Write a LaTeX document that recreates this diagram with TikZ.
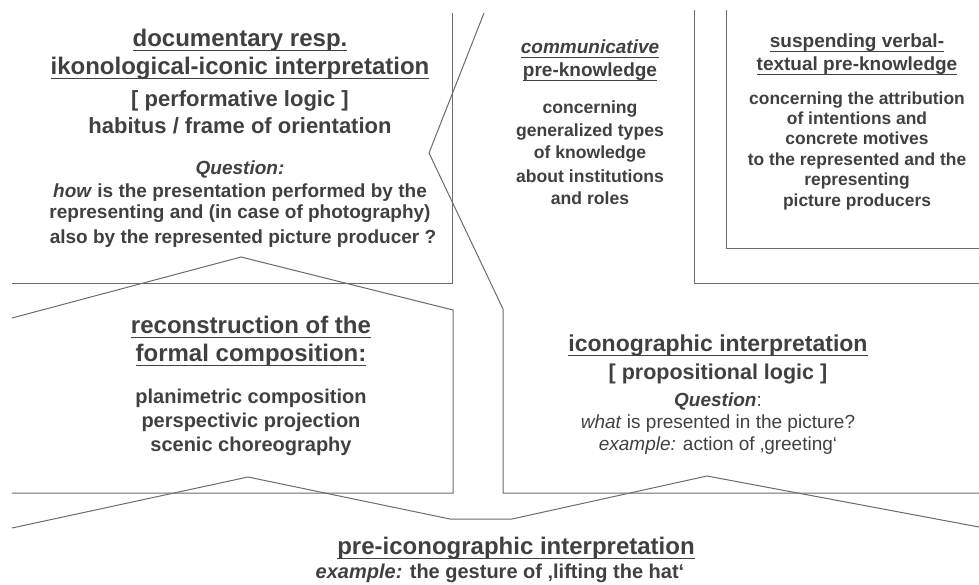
\documentclass[tikz,border=0pt]{standalone}
\usepackage{fontspec}
\setmainfont{Liberation Sans}
\usepackage{tikz}
\definecolor{linegray}{gray}{0.42}
\definecolor{txtgray}{gray}{0.25}
\newcommand{\ulin}[1]{\setbox0\hbox{#1}\rlap{\rule[-5pt]{\wd0}{1.3pt}}\box0}
\tikzset{
	frame/.style={draw=linegray, line width=1pt},
	boldtxt/.style={inner sep=0pt, anchor=base, text=txtgray, font=\bfseries\fontsize{#1}{#1}\selectfont},
	plaintxt/.style={inner sep=0pt, anchor=base, text=txtgray, font=\fontsize{#1}{#1}\selectfont}
}

\begin{document}
\begin{tikzpicture}[x=1pt, y=-1pt]
		%%%%% START %%%%%
		\useasboundingbox (0, 0) rectangle (979, 584);
		
		\draw[frame] (452, 13) -- (452, 283) -- (12, 283);
		\draw[frame] (484, 13) -- (429, 153) -- (503, 309) -- (503, 493) -- (979, 493);
		\draw[frame] (694, 10) -- (694, 283) -- (979, 283);
		\draw[frame] (726, 10) -- (726, 248) -- (979, 248);
		\draw[frame] (12, 318) -- (241, 257) -- (453, 310) -- (453, 493) -- (12, 493);
		\draw[frame] (12, 528) -- (248, 477) -- (450, 519) -- (512, 519) -- (707, 476) -- (979, 527);
		
		% documentary box
		\node[boldtxt=24] (doc-t1) at (240, 46) {\ulin{documentary resp.}};
		\node[boldtxt=24] (doc-t2) at (240, 74) {\ulin{ikonological-iconic interpretation}};
		\node[boldtxt=22] (doc-logic) at (240, 106) {[ performative logic ]};
		\node[boldtxt=22] (doc-hab) at (240, 133) {habitus / frame of orientation};
		\node[boldtxt=19] (doc-q) at (240, 174) {\textit{Question:}};
		\node[boldtxt=19] (doc-q1) at (240, 197) {\textit{how} is the presentation performed by the};
		\node[boldtxt=19] (doc-q2) at (240, 218) {representing and (in case of photography)};
		\node[boldtxt=19] (doc-q3) at (243, 243) {also by the represented picture producer ?};
		
		% communicative pre-knowledge
		\node[boldtxt=19] (com-t1) at (590, 53) {\ulin{\textit{communicative}}};
		\node[boldtxt=19] (com-t2) at (590, 76) {\ulin{pre-knowledge}};
		\node[boldtxt=17.6] (com-b1) at (590, 113) {concerning};
		\node[boldtxt=17.6] (com-b2) at (590, 136) {generalized types};
		\node[boldtxt=17.6] (com-b3) at (590, 158) {of knowledge};
		\node[boldtxt=17.6] (com-b4) at (590, 182) {about institutions};
		\node[boldtxt=17.6] (com-b5) at (590, 204) {and roles};
		
		% suspending verbal-textual pre-knowledge
		\node[boldtxt=19] (sus-t1) at (857, 47) {\ulin{suspending verbal-}};
		\node[boldtxt=19] (sus-t2) at (857, 70) {\ulin{textual pre-knowledge}};
		\node[boldtxt=17.4] (sus-b1) at (857, 104) {concerning the attribution};
		\node[boldtxt=17.4] (sus-b2) at (857, 124) {of intentions and};
		\node[boldtxt=17.4] (sus-b3) at (857, 144) {concrete motives};
		\node[boldtxt=17.4] (sus-b4) at (857, 165) {to the represented and the};
		\node[boldtxt=17.4] (sus-b5) at (857, 185) {representing};
		\node[boldtxt=17.4] (sus-b6) at (857, 206) {picture producers};
		
		% formal composition
		\node[boldtxt=24] (rec-t1) at (251, 333) {\ulin{reconstruction of the}};
		\node[boldtxt=24] (rec-t2) at (251, 361) {\ulin{formal composition:}};
		\node[boldtxt=20] (rec-b1) at (251, 403) {planimetric composition};
		\node[boldtxt=20] (rec-b2) at (251, 427) {perspectivic projection};
		\node[boldtxt=20] (rec-b3) at (251, 451) {scenic choreography};
		
		% iconographic interpretation
		\node[boldtxt=23] (ico-t) at (718, 351) {\ulin{iconographic interpretation}};
		\node[boldtxt=21.5] (ico-logic) at (718, 379) {[ propositional logic ]};
		\node[plaintxt=19] (ico-q) at (718, 406) {\textbf{\textit{Question}}:};
		\node[plaintxt=19] (ico-q1) at (718, 428) {\textit{what} is presented in the picture?};
		\node[plaintxt=19] (ico-ex) at (718, 450) {\textit{example:} action of ‚greeting‘};
		
		% pre-iconographic interpretation
		\node[boldtxt=24] (pre-t) at (516, 554) {\ulin{pre-iconographic interpretation}};
		\node[boldtxt=20] (pre-ex) at (500, 578) {\textit{example:} the gesture of ‚lifting the hat‘};
		
		%%%%% END %%%%%
\end{tikzpicture}
\end{document}
